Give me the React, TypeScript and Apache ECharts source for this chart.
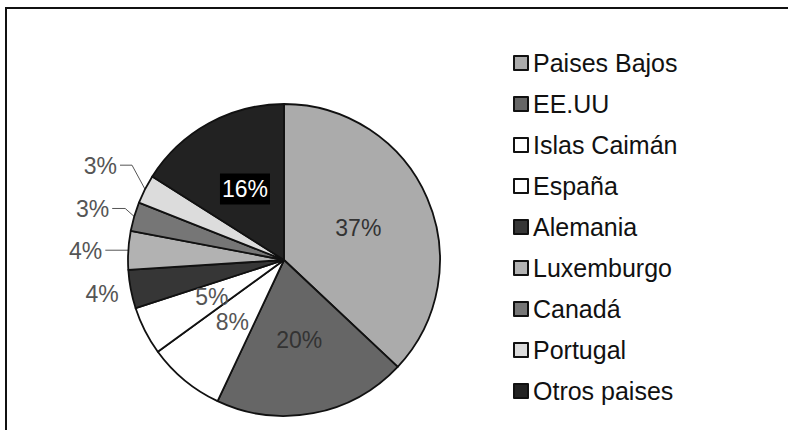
import React, { useEffect, useRef } from "react";
import * as echarts from "echarts";

// Share of the total, by country (percent)
const countries = [
  "Paises Bajos",
  "EE.UU",
  "Islas Caimán",
  "España",
  "Alemania",
  "Luxemburgo",
  "Canadá",
  "Portugal",
  "Otros paises",
];
const shares = [37, 20, 8, 5, 4, 4, 3, 3, 16];

// Greyscale fill for each slice, in the same order as the countries
const sliceColors = [
  "#ababab",
  "#666666",
  "#ffffff",
  "#ffffff",
  "#363636",
  "#b2b2b2",
  "#767676",
  "#dcdcdc",
  "#222222",
];

// Colour of the percentage written on each slice
const labelColors = [
  "#333333",
  "#333333",
  "#555555",
  "#555555",
  "#555555",
  "#555555",
  "#555555",
  "#555555",
  "#ffffff",
];

// Thin slices whose percentage sits outside the pie, with the shape of their leader line
// elbow: offset of the bend from the rim point, tail: horizontal run to the text
const outsideLabels: Record<string, { elbow: [number, number]; tail: number; line: boolean }> = {
  Alemania: { elbow: [-9, 4], tail: 0, line: false },
  Luxemburgo: { elbow: [0, 0], tail: 23, line: true },
  "Canadá": { elbow: [-9, -8], tail: 13, line: true },
  Portugal: { elbow: [-13, -24], tail: 12, line: true },
};

const FONT = "'Liberation Sans', Arial, Helvetica, sans-serif";
const CENTER: [number, number] = [284, 260];
const RADIUS = 156;

export default function App() {
  const ref = useRef<HTMLDivElement>(null);

  useEffect(() => {
    if (!ref.current) return;
    const chart = echarts.init(ref.current, undefined, { renderer: "svg" });
    const total = shares.reduce((a, b) => a + b, 0);

    // mid angle (degrees, counter-clockwise from +x) of each slice, starting at 12 o'clock clockwise
    const midAngles: number[] = [];
    let acc = 0;
    shares.forEach((v) => {
      midAngles.push(90 - (360 * (acc + v / 2)) / total);
      acc += v;
    });

    const data = countries.map((name, i) => {
      const out = outsideLabels[name];
      return {
        name,
        value: shares[i],
        itemStyle: { color: sliceColors[i] },
        label: out
          ? { position: "outside" as const, color: labelColors[i] }
          : i === countries.length - 1
          ? {
              position: "inside" as const,
              color: labelColors[i],
              backgroundColor: "#000",
              padding: [5, 2, 3, 2],
            }
          : { position: "inside" as const, color: labelColors[i] },
        labelLine: { show: !!(out && out.line) },
      };
    });

    chart.setOption({
      animation: false,
      backgroundColor: "#ffffff",
      graphic: [
        {
          type: "rect",
          shape: { x: 6, y: 8, width: 900, height: 500 },
          style: { fill: "none", stroke: "#111", lineWidth: 2 },
          silent: true,
        },
      ],
      legend: {
        orient: "vertical",
        left: 508,
        top: 45,
        icon: "rect",
        itemWidth: 14,
        itemHeight: 14,
        itemGap: 15,
        selectedMode: false,
        itemStyle: { borderColor: "#111", borderWidth: 2 },
        textStyle: {
          fontFamily: FONT,
          fontSize: 25,
          color: "#111",
          lineHeight: 26,
        },
        data: countries,
      },
      series: [
        {
          type: "pie",
          center: CENTER,
          radius: RADIUS,
          startAngle: 90,
          clockwise: true,
          avoidLabelOverlap: false,
          itemStyle: { borderColor: "#111", borderWidth: 1.8 },
          label: {
            show: true,
            fontFamily: FONT,
            fontSize: 23,
            formatter: (p: any) => `${Math.round(p.percent)}%`,
          },
          labelLine: {
            length: 10,
            length2: 10,
            lineStyle: { color: "#555", width: 1 },
          },
          labelLayout: (params: any) => {
            const name = countries[params.dataIndex];
            const out = outsideLabels[name];
            if (!out) return {};
            const a = (midAngles[params.dataIndex] * Math.PI) / 180;
            const rim: [number, number] = [
              CENTER[0] + RADIUS * Math.cos(a),
              CENTER[1] - RADIUS * Math.sin(a),
            ];
            const bend: [number, number] = [rim[0] + out.elbow[0], rim[1] + out.elbow[1]];
            const end: [number, number] = [bend[0] - out.tail, bend[1]];
            return {
              x: end[0] - 3,
              y: end[1] + 1,
              align: "right",
              verticalAlign: "middle",
              labelLinePoints: [rim, bend, end],
            };
          },
          data,
        },
      ],
    });

    return () => chart.dispose();
  }, []);

  return (
    <div
      ref={ref}
      style={{ position: "fixed", left: 0, top: 0, width: 788, height: 430, background: "#fff" }}
    />
  );
}
